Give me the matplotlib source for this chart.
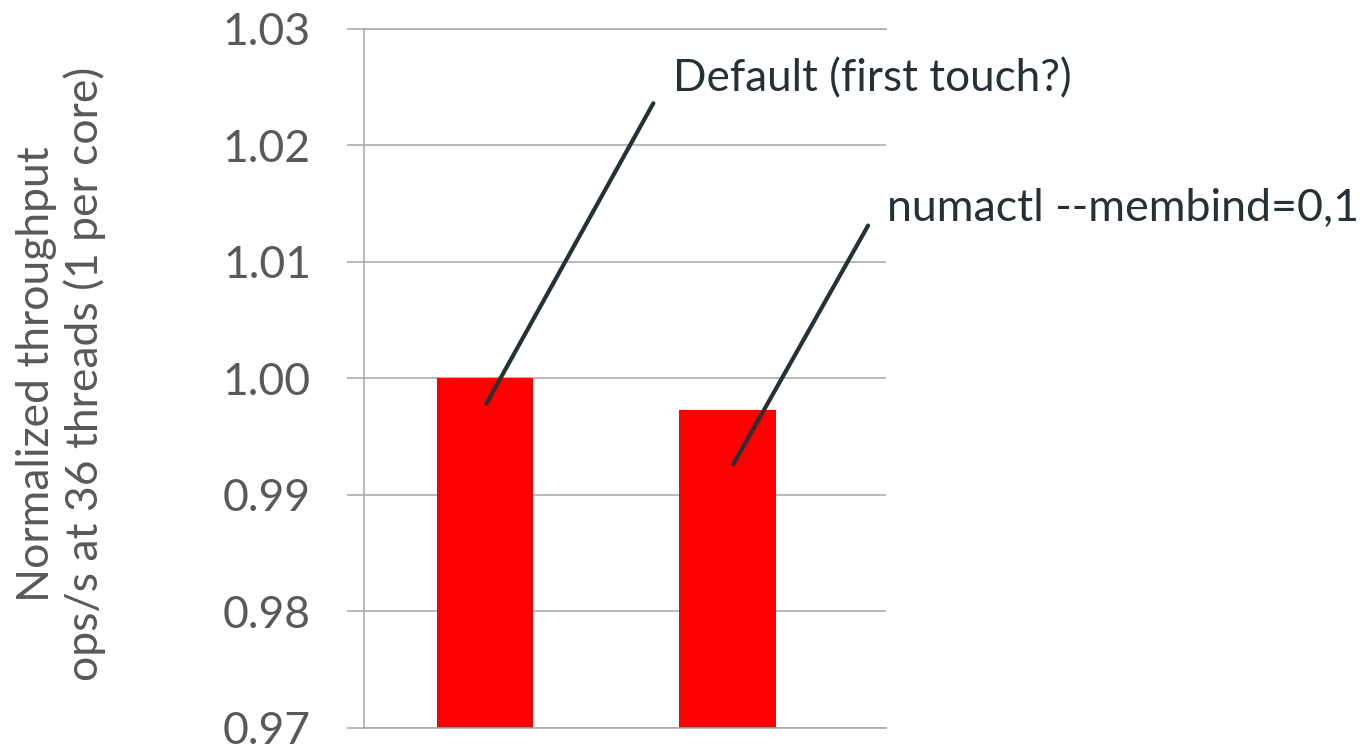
import matplotlib
matplotlib.use("Agg")
import matplotlib.pyplot as plt

# data
categories = ["Default (first touch?)", "numactl --membind=0,1"]
throughput = [1.000, 0.9973]
y_ticks = [0.97, 0.98, 0.99, 1.00, 1.01, 1.02, 1.03]
y_label = "Normalized throughput\nops/s at 36 threads (1 per core)"

GRID = "#a6a6a6"
TEXT = "#595959"
DARK = "#263035"


def main():
    plt.rcParams['font.family'] = ['Lato', 'DejaVu Sans']
    fig = plt.figure(figsize=(13.62, 7.47), dpi=100)
    ax = fig.add_axes([364 / 1362, 1 - 727.7 / 747,
                       (886 - 364) / 1362, (727.7 - 28.7) / 747])

    x = list(range(len(categories)))
    ax.bar(x, throughput, width=0.4, color="#ff0000", zorder=2)

    ax.set_xlim(-0.5, 1.656)
    ax.set_ylim(0.97, 1.03)
    ax.set_yticks(y_ticks)
    ax.set_yticklabels([f"{v:.2f}" for v in y_ticks])
    ax.set_xticks([])
    ax.yaxis.grid(True, color=GRID, linewidth=1.1, zorder=0)
    ax.set_axisbelow(True)
    ax.tick_params(axis='y', length=12.2, width=1.1, color=GRID,
                   labelsize=32, labelcolor=TEXT, pad=26)
    for side in ["left", "top", "bottom"]:
        ax.spines[side].set_color(GRID)
        ax.spines[side].set_linewidth(1.1)
    ax.spines["right"].set_visible(False)

    # callouts: (line end near bar, line end near text, text position)
    ends = [(0.695, 1.0236), (1.582, 1.0131)]
    texts = [(0.777, 1.0257), (1.661, 1.0146)]
    drops = [0.0022, 0.0047]
    for i, name in enumerate(categories):
        ax.annotate("", xy=(x[i] + 0.005 + 0.02 * i, throughput[i] - drops[i]),
                    xytext=ends[i], annotation_clip=False,
                    arrowprops=dict(arrowstyle="-", color=DARK, lw=3.0,
                                    shrinkA=0, shrinkB=0))
        ax.text(texts[i][0], texts[i][1], name, fontsize=[31.7, 32.2][i],
                color=DARK, ha="left", va="center", clip_on=False)

    fig.text(61 / 1362, 1 - 374 / 747, y_label, rotation=90, fontsize=32,
             color=TEXT, ha="center", va="center", multialignment="center",
             linespacing=1.2)

    fig.savefig("out.png", dpi=100)
    return 0


if __name__ == "__main__":
    main()
